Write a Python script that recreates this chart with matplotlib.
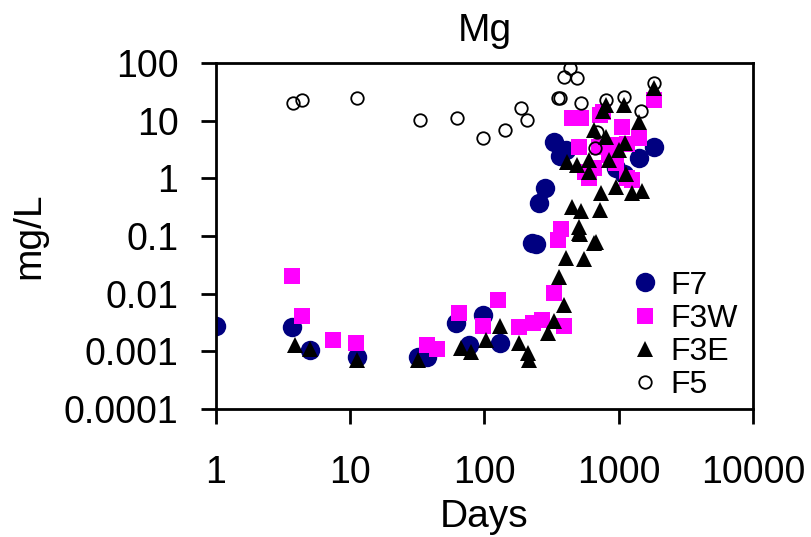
import matplotlib
matplotlib.use("Agg")
import matplotlib.pyplot as plt
from matplotlib.ticker import FixedLocator, FixedFormatter

plt.rcParams['font.family'] = ['Liberation Sans', 'DejaVu Sans']

# F7 - navy filled circles
f7_days = [1, 3.7, 5, 11.2, 32, 37, 61, 77, 97, 130, 224, 240, 256, 284,
           331, 362, 407, 1420, 1830, 960, 1100]
f7_mg = [0.0027, 0.0026, 0.00106, 0.0008, 0.0008, 0.0008, 0.0031, 0.0013,
         0.0043, 0.0014, 0.076, 0.072, 0.37, 0.68, 4.3, 2.45, 3.1, 2.25,
         3.5, 1.5, 1.2]

# F3W - magenta squares
f3w_days = [3.7, 4.35, 7.4, 11, 37, 44, 65, 98, 125, 182, 228, 270, 390,
            331, 350, 370, 445, 510, 560, 600, 716, 760, 960, 1060, 1260,
            1420, 1830, 520, 650, 850, 1150, 880, 1150, 720]
f3w_mg = [0.02, 0.0041, 0.0016, 0.0014, 0.0013, 0.0011, 0.0047, 0.0027,
          0.0078, 0.0026, 0.0031, 0.0035, 0.0027, 0.0102, 0.085, 0.13, 11,
          3.5, 1.3, 1.0, 3.5, 14, 1.85, 7.7, 0.93, 5.0, 23, 11, 1.5, 2.5, 4.0,
          3.8, 1.0, 12.6]

# F3E - black triangles
f3e_days = [3.9, 5, 11.2, 32, 67, 80, 103, 130, 182, 210, 215, 295, 331,
            390, 360, 405, 550, 510, 650, 445, 520, 720, 510, 515, 680, 740,
            960, 1250, 1130, 490, 410, 760, 800, 1120, 1830, 800, 1100, 1420,
            1500, 600, 600, 850, 1000, 650]
f3e_mg = [0.0013, 0.0011, 0.0007, 0.0007, 0.00115, 0.00097, 0.0016, 0.0027,
          0.0014, 0.00095, 0.0007, 0.0021, 0.0033, 0.0064, 0.0195, 0.042,
          0.04, 0.112, 0.077, 0.32, 0.27, 0.28, 0.145, 0.11, 0.08, 0.56,
          0.71, 0.56, 1.2, 1.7, 1.9, 15, 5.2, 4.1, 37, 19, 19, 9.6, 0.6, 1.3,
          2.1, 2.1, 3.1, 6.9]

# F5 - open circles
f5_days = [3.74, 4.4, 11.2, 33, 62, 97, 141, 188, 206, 350, 390, 430, 490,
           525, 690, 800, 1100, 1460, 1830, 365, 660]
f5_mg = [20.3, 22.8, 24.6, 10.3, 11, 5.0, 6.9, 16.6, 10.2, 24.7, 57, 82, 55,
         20, 6.3, 23, 26, 15, 45, 25, 3.3]

x_ticks = [1, 10, 100, 1000, 10000]
x_labels = ['1', '10', '100', '1000', '10000']
y_ticks = [0.0001, 0.001, 0.01, 0.1, 1, 10, 100]
y_labels = ['0.0001', '0.001', '0.01', '0.1', '1', '10', '100']

fig = plt.figure(figsize=(8.11, 5.37), dpi=100)
ax = fig.add_axes([0.2663, 0.2384, 0.6622, 0.6443])

ax.plot(f7_days, f7_mg, 'o', color='#000080', markersize=14, markeredgewidth=0,
        label='F7', zorder=2)
ax.plot(f3w_days, f3w_mg, 's', color='#ff00ff', markersize=11, markeredgewidth=0,
        label='F3W', zorder=3)
ax.plot(f3e_days, f3e_mg, '^', color='black', markersize=12, markeredgewidth=0,
        label='F3E', zorder=4)
ax.plot(f5_days, f5_mg, 'o', markerfacecolor='none', markeredgecolor='black',
        markersize=9, markeredgewidth=1.3, label='F5', zorder=5)

ax.set_xscale('log')
ax.set_yscale('log')
ax.set_xlim(1, 10000)
ax.set_ylim(0.0001, 100)
ax.xaxis.set_major_locator(FixedLocator(x_ticks))
ax.xaxis.set_major_formatter(FixedFormatter(x_labels))
ax.yaxis.set_major_locator(FixedLocator(y_ticks))
ax.yaxis.set_major_formatter(FixedFormatter(y_labels))
ax.minorticks_off()

for sp in ax.spines.values():
    sp.set_linewidth(2)
ax.tick_params(axis='both', which='major', direction='out', length=11, width=2,
               labelsize=27, colors='black')
ax.tick_params(axis='x', pad=22)
ax.tick_params(axis='y', pad=16)

ax.set_title('Mg', fontsize=28, pad=16)
ax.set_xlabel('Days', fontsize=28, labelpad=6)
ax.set_ylabel('mg/L', fontsize=28, labelpad=12)

ax.legend(loc='upper left', bbox_to_anchor=(0.775, 0.40), frameon=False,
          fontsize=23, handlelength=0.8, handletextpad=0.4, labelspacing=0.1,
          borderpad=0, borderaxespad=0)

fig.savefig('out.png', dpi=100)
